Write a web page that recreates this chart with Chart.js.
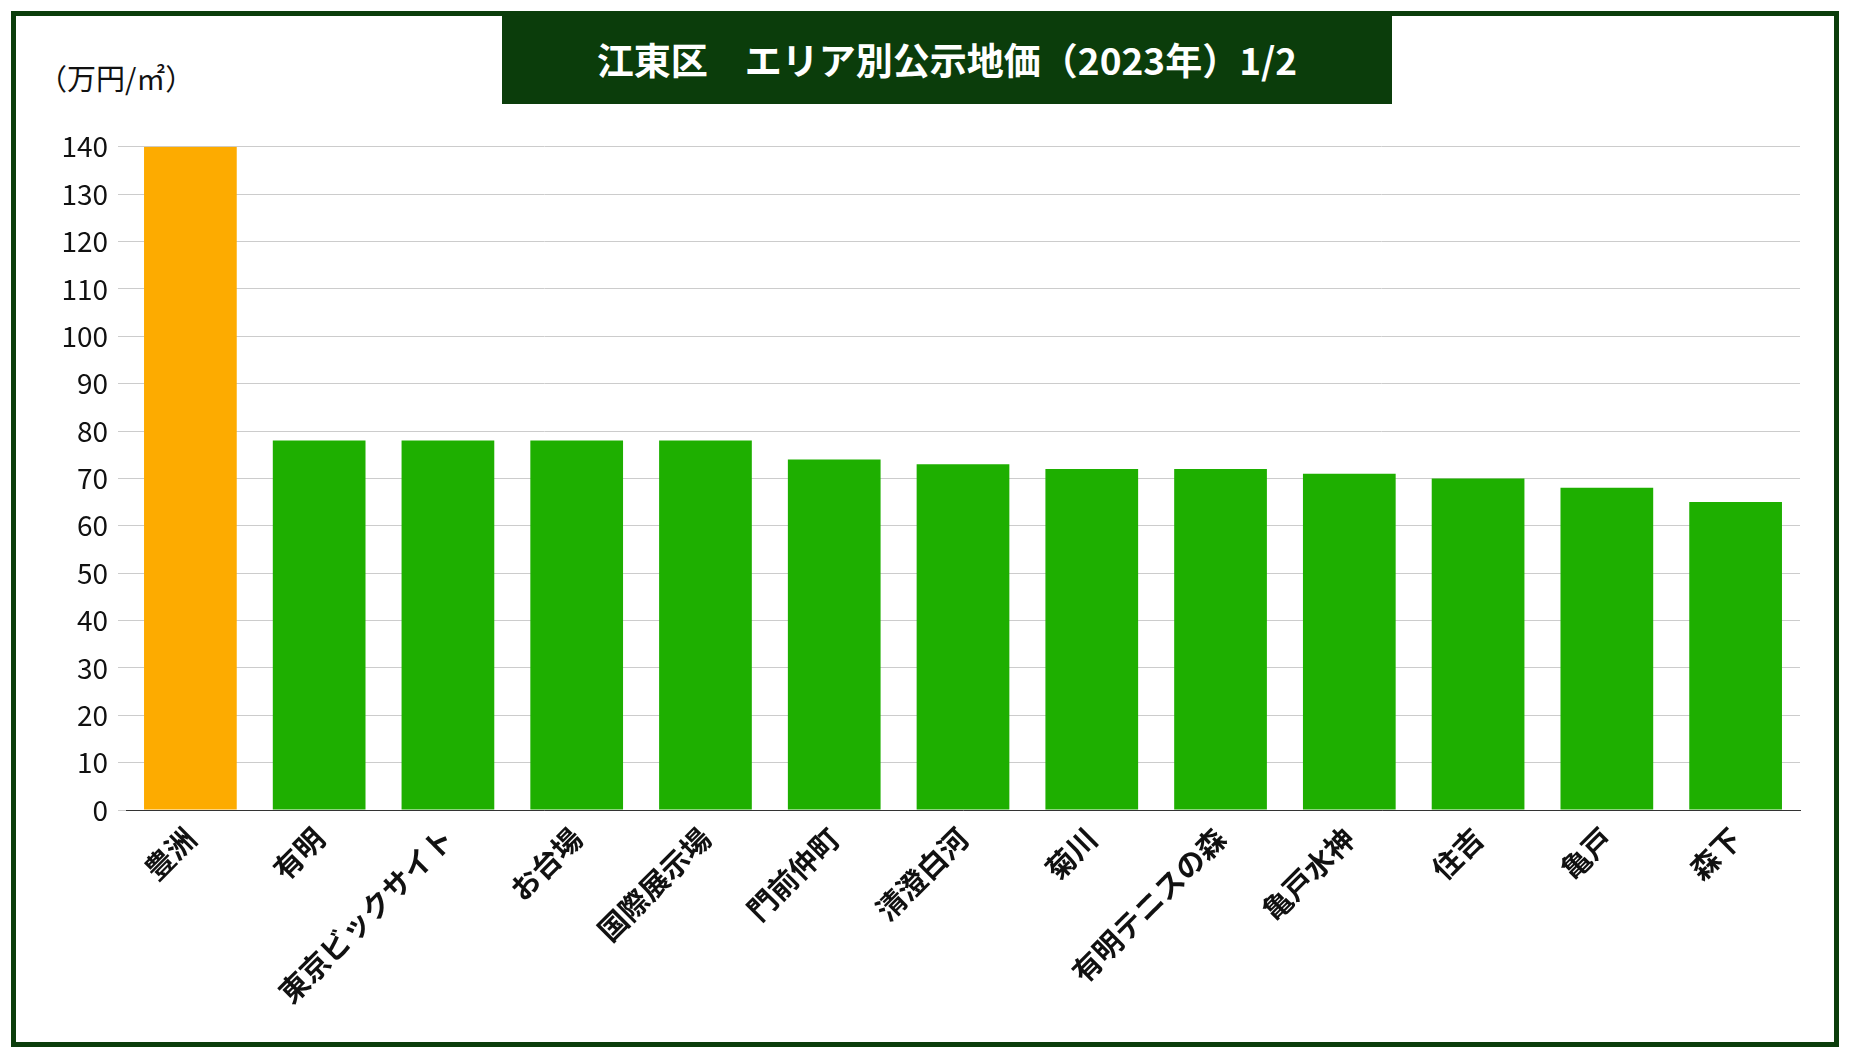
<!DOCTYPE html>
<html><head><meta charset="utf-8">
<script src="https://cdn.jsdelivr.net/npm/chart.js@4"></script>
<style>
body{margin:0;width:1850px;height:1058px;background:#fff;position:relative;overflow:hidden;font-family:"Noto Sans CJK JP",sans-serif}
#frame{position:absolute;left:11px;top:11px;width:1818px;height:1026px;border:5px solid #0b3d0b}
#title{position:absolute;left:502px;top:14px;width:890px;height:90px;background:#0b3d0b;color:#fff;font-weight:bold;font-size:37px;display:flex;align-items:center;justify-content:center}
#unit{position:absolute;left:38px;top:56px;font-size:29px;color:#111}
#wrap{position:absolute;left:20px;top:120px;width:1800px;height:920px}
</style></head><body>
<div id="frame"></div>
<div id="title">江東区　エリア別公示地価（2023年）1/2</div>
<div id="unit">（万円/㎡）</div>
<div id="wrap"><canvas id="c"></canvas></div>
<script>
const areas = ['豊洲','有明','東京ビックサイト','お台場','国際展示場','門前仲町','清澄白河','菊川','有明テニスの森','亀戸水神','住吉','亀戸','森下'];
const prices = [140,78,78,78,78,74,73,72,72,71,70,68,65];
const barColors = areas.map((a, i) => i === 0 ? '#fdab00' : '#1eaf00');
const yTicks = [0,10,20,30,40,50,60,70,80,90,100,110,120,130,140];

new Chart(document.getElementById('c'), {
  type: 'bar',
  data: { labels: areas, datasets: [{ data: prices, backgroundColor: barColors, barPercentage: 0.72, categoryPercentage: 1 }] },
  options: {
    responsive: true, maintainAspectRatio: false, animation: false,
    layout: { padding: { top: 6, right: 20 } },
    plugins: { legend: { display: false }, tooltip: { enabled: false } },
    scales: {
      x: {
        grid: { display: false },
        border: { color: '#333' },
        ticks: { color: '#111', font: { size: 29, weight: 'bold', family: 'Noto Sans CJK JP' }, maxRotation: 45, minRotation: 45, autoSkip: false },
        afterFit: s => { s.height = 230; }
      },
      y: {
        min: 0, max: 140,
        afterBuildTicks: s => { s.ticks = yTicks.map(v => ({ value: v })); },
        grid: { color: '#cccccc' },
        border: { display: false },
        ticks: { color: '#111', font: { size: 28, family: 'Noto Sans CJK JP' }, padding: 10 },
        afterFit: s => { s.width = 106; }
      }
    }
  }
});
</script></body></html>
